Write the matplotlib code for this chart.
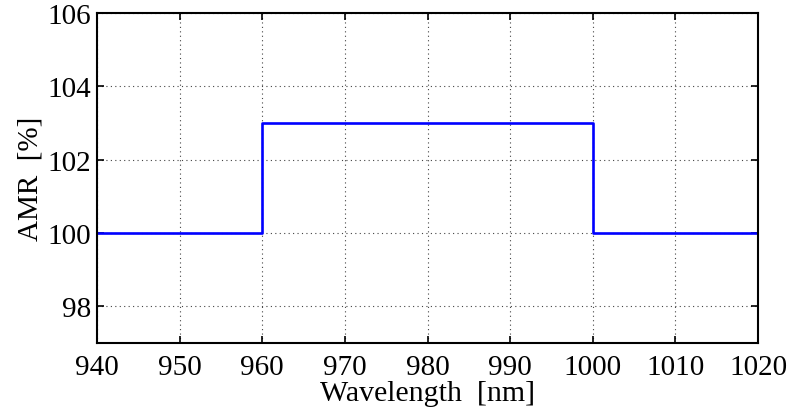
import numpy as np
import matplotlib.pyplot as plt

plt.rcParams['font.family'] = ['Liberation Serif', 'DejaVu Serif']
plt.rcParams['mathtext.fontset'] = 'stix'

# step profile
wavelength = [940, 960, 960, 1000, 1000, 1020]
amr = [100, 100, 103, 103, 100, 100]
x_ticks = [940, 950, 960, 970, 980, 990, 1000, 1010, 1020]
y_ticks = [98, 100, 102, 104, 106]

fig = plt.figure(figsize=(7.89, 4.10), dpi=100)
ax = fig.add_axes([97/789, 1-344/410, (758-97)/789, (344-14)/410])

ax.plot(wavelength, amr, color='#0000ff', lw=1.9)

ax.set_xlim(940, 1020)
ax.set_ylim(97, 106)
ax.set_xticks(x_ticks)
ax.set_yticks(y_ticks)
ax.grid(True, linestyle=(0, (1, 3)), color='#444444', lw=0.8)
ax.tick_params(direction='in', top=True, right=True, length=5, width=1.2, labelsize=21)
ax.tick_params(axis='x', pad=8)
ax.tick_params(axis='y', pad=4)
for s in ax.spines.values():
    s.set_linewidth(1.5)

ax.set_xlabel('Wavelength  [nm]', fontsize=21.5, labelpad=0)
ax.set_ylabel('AMR  [%]', fontsize=21, labelpad=3)

plt.savefig('out.png', dpi=100)
